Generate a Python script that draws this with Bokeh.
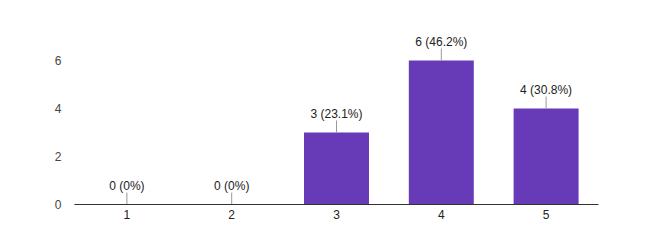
from bokeh.plotting import figure
from bokeh.models import Range1d, ColumnDataSource, FixedTicker
from bokeh.embed import file_html
from bokeh.resources import INLINE
from bokeh.core.properties import value

categories = [1, 2, 3, 4, 5]
counts = [0, 0, 3, 6, 4]
y_ticks = [0, 2, 4, 6]

total = sum(counts)
labels = [f"{c} ({round(c / total * 100, 1):g}%)" for c in counts]

src = ColumnDataSource(dict(
    x=categories,
    top=counts,
    lead=[c + 0.5 for c in counts],
    label=labels,
))

p = figure(width=654, height=249, output_backend="svg", toolbar_location=None,
           x_range=Range1d(0.5, 5.5), y_range=Range1d(0, 8),
           min_border_left=74, min_border_right=56, min_border_top=12, min_border_bottom=45)
p.outline_line_color = None
p.background_fill_color = "white"
p.border_fill_color = "white"
p.xgrid.grid_line_color = None
p.ygrid.grid_line_color = None

p.vbar(x="x", top="top", bottom=0, width=0.62, source=src, fill_color="#673AB7", line_color=None)
p.segment(x0="x", y0="top", x1="x", y1="lead", source=src, line_color="#999999", line_width=1)
p.text(x="x", y="lead", text="label", source=src, text_align="center", text_baseline="bottom",
       y_offset=0, text_font=value("Liberation Sans"), text_font_size="12px", text_color="#222222")

xa = p.xaxis[0]
xa.ticker = FixedTicker(ticks=categories)
xa.axis_line_color = "#333333"
xa.axis_line_width = 1
xa.major_tick_line_color = None
xa.minor_tick_line_color = None
xa.major_tick_out = 0
xa.major_label_standoff = 5
xa.major_label_text_font = "Liberation Sans"
xa.major_label_text_font_size = "12px"
xa.major_label_text_color = "#222222"

ya = p.yaxis[0]
ya.ticker = FixedTicker(ticks=y_ticks)
ya.axis_line_color = None
ya.major_tick_line_color = None
ya.minor_tick_line_color = None
ya.major_tick_out = 0
ya.major_label_standoff = 13
ya.major_label_text_font = "Liberation Sans"
ya.major_label_text_font_size = "12px"
ya.major_label_text_color = "#444444"

open("out.html", "w").write(file_html(p, INLINE))
